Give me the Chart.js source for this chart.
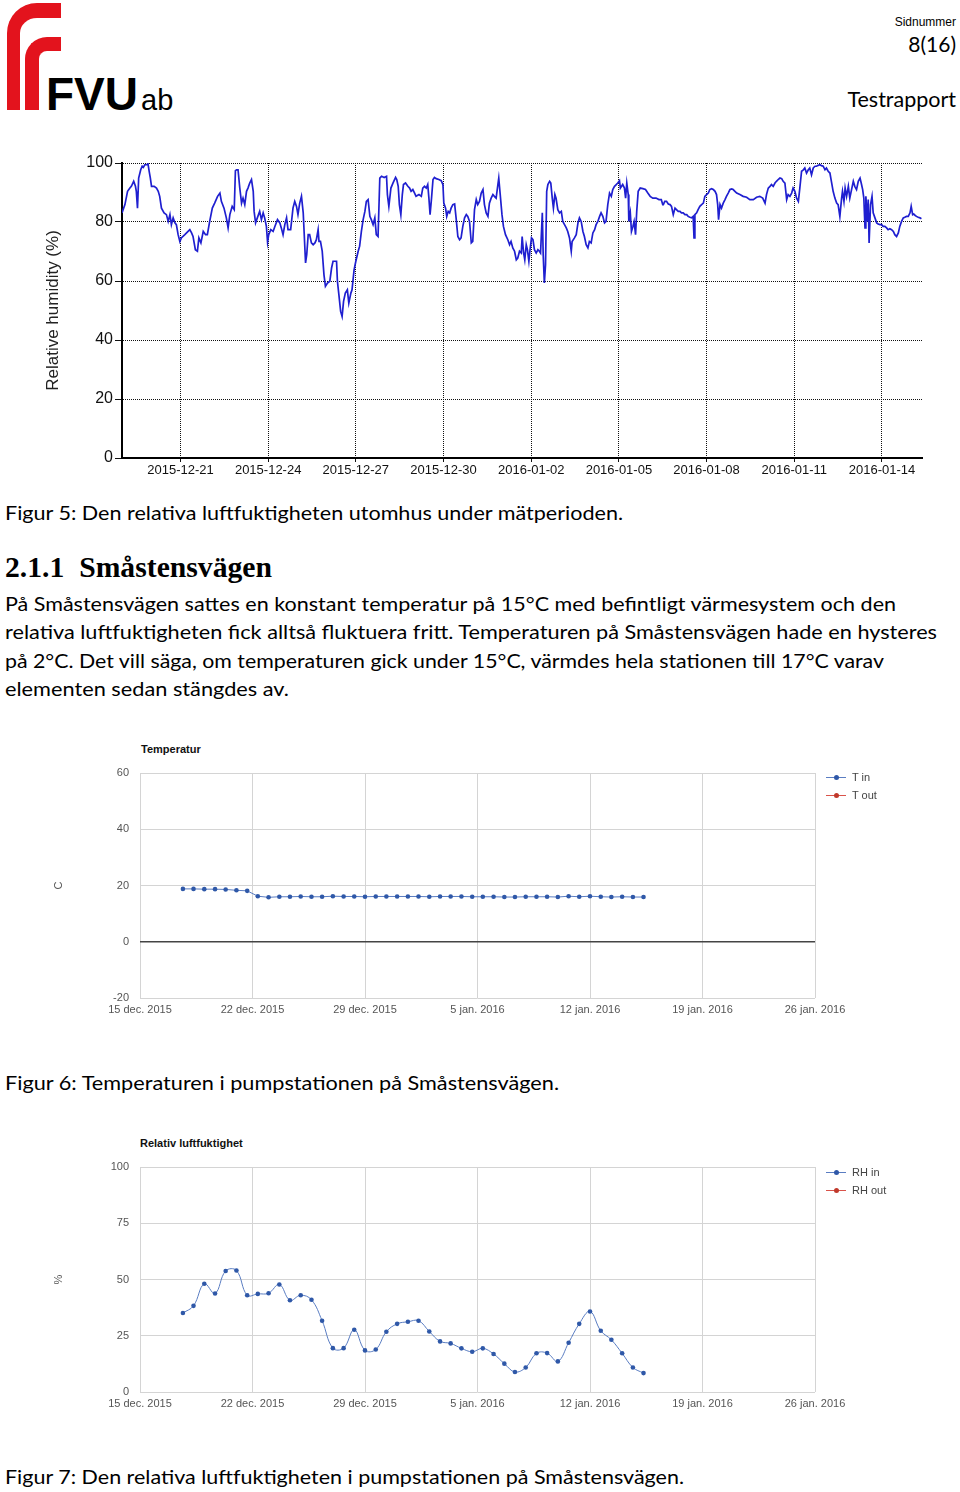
<!DOCTYPE html>
<html>
<head>
<meta charset="utf-8">
<script src="https://cdn.jsdelivr.net/npm/chart.js@4.4.1/dist/chart.umd.min.js"></script>
<style>
  body { margin: 0; background: #fff; }
  #page { position: relative; width: 960px; height: 1492px; overflow: hidden; }
  .t { position: absolute; white-space: nowrap; font-family: Lato, 'Open Sans', sans-serif; color: #000; line-height: 1; transform-origin: 0 0; }
  .red { position: absolute; border-color: #e3131d; border-style: solid; border-right: 0; border-bottom: 0; box-sizing: border-box; }
  canvas { position: absolute; }
  .ctitle { position: absolute; font: bold 11px 'Liberation Sans', Arial, sans-serif; color: #111; }
  .leg { position: absolute; left: 826px; padding-left: 26px; font: 11px 'Liberation Sans', Arial, sans-serif; color: #444; line-height: 12px; }
  .leg i { position: absolute; left: 0; top: 6px; width: 20px; height: 1px; }
  .leg b { position: absolute; left: 8px; top: -2px; width: 5px; height: 5px; border-radius: 50%; }
</style>
</head>
<body>
<div id="page">
  <!-- logo -->
  <div class="red" style="left:7px;top:3px;width:54px;height:107px;border-top-width:15px;border-left-width:13px;border-top-left-radius:30px;"></div>
  <div class="red" style="left:25px;top:37px;width:36px;height:73px;border-top-width:14px;border-left-width:14px;border-top-left-radius:22px;"></div>
  <div class="t" style="left:46px;top:71px;font:bold 46px 'Liberation Sans',Arial,sans-serif;line-height:46px;">FVU</div>
  <div class="t" style="left:141px;top:86px;font:29px 'Liberation Sans',Arial,sans-serif;line-height:29px;">ab</div>

  <div class="t" style="right:4px;top:16px;font-family:'Liberation Sans',Arial,sans-serif;font-size:12px;">Sidnummer</div>
  <div class="t" style="right:4px;top:33px;font-size:21px;">8(16)</div>
  <div class="t" style="right:4px;top:89px;font-size:21.5px;">Testrapport</div>

  <canvas id="rhOutChart" width="900" height="335" style="left:38px;top:150px;"></canvas>

  <div class="t fit" data-w="618" style="left:5px;top:502px;font-size:20px;">Figur 5: Den relativa luftfuktigheten utomhus under mätperioden.</div>
  <div class="t fit" data-w="267" style="left:5px;top:553px;font:bold 29px 'Liberation Serif',serif;line-height:1;">2.1.1&nbsp;&nbsp;Småstensvägen</div>
  <div class="t fit" data-w="891" style="left:5px;top:593px;font-size:20px;">På Småstensvägen sattes en konstant temperatur på 15°C med befintligt värmesystem och den</div>
  <div class="t fit" data-w="932" style="left:5px;top:621px;font-size:20px;">relativa luftfuktigheten fick alltså fluktuera fritt. Temperaturen på Småstensvägen hade en hysteres</div>
  <div class="t fit" data-w="879" style="left:5px;top:650px;font-size:20px;">på 2°C. Det vill säga, om temperaturen gick under 15°C, värmdes hela stationen till 17°C varav</div>
  <div class="t fit" data-w="284" style="left:5px;top:678px;font-size:20px;">elementen sedan stängdes av.</div>

  <div class="ctitle" style="left:141px;top:743px;">Temperatur</div>
  <canvas id="tempChart" width="830" height="270" style="left:40px;top:755px;"></canvas>
  <div id="tempLegend"></div>

  <div class="t fit" data-w="554" style="left:5px;top:1072px;font-size:20px;">Figur 6: Temperaturen i pumpstationen på Småstensvägen.</div>

  <div class="ctitle" style="left:140px;top:1137px;">Relativ luftfuktighet</div>
  <canvas id="rhPumpChart" width="830" height="270" style="left:40px;top:1149px;"></canvas>
  <div id="rhLegend"></div>

  <div class="t fit" data-w="679" style="left:5px;top:1466px;font-size:20px;">Figur 7: Den relativa luftfuktigheten i pumpstationen på Småstensvägen.</div>
</div>

<script>
// Figur 5: RH utomhus, x = dagar sedan 2015-12-19 00:00
const rhOutDays = [
  0.00,0.10,0.19,0.27,0.32,0.40,0.46,0.49,0.53,0.57,0.64,0.69,0.73,0.78,0.85,0.89,0.93,0.97,1.01,1.10,
  1.18,1.24,1.29,1.35,1.44,1.52,1.58,1.64,1.69,1.75,1.81,1.86,1.92,1.98,2.03,2.15,2.26,2.32,2.38,2.43,
  2.51,2.58,2.63,2.70,2.78,2.86,2.92,3.00,3.09,3.17,3.27,3.35,3.40,3.49,3.57,3.63,3.69,3.77,3.84,3.88,
  3.92,3.97,4.03,4.09,4.14,4.20,4.26,4.31,4.37,4.43,4.49,4.52,4.57,4.63,4.71,4.77,4.83,4.88,4.94,4.98,
  5.02,5.09,5.17,5.23,5.32,5.40,5.45,5.51,5.57,5.63,5.68,5.77,5.85,5.91,5.97,6.02,6.08,6.14,6.20,6.23,
  6.28,6.32,6.37,6.42,6.48,6.54,6.60,6.65,6.71,6.74,6.79,6.85,6.91,6.96,7.03,7.11,7.17,7.22,7.28,7.34,
  7.37,7.42,7.48,7.53,7.58,7.64,7.71,7.76,7.83,7.87,7.94,8.00,8.08,8.13,8.19,8.25,8.31,8.36,8.42,8.48,
  8.53,8.59,8.65,8.70,8.76,8.82,8.88,8.97,9.05,9.08,9.13,9.20,9.27,
  9.36,9.40,9.45,9.49,9.54,9.59,9.63,9.70,9.78,9.84,9.89,9.95,10.01,10.06,10.16,10.24,10.29,10.35,10.41,10.46,
  10.50,10.54,10.59,10.64,10.69,10.75,10.84,10.92,10.98,11.01,11.07,11.11,11.16,11.21,11.26,11.32,11.38,11.43,11.49,11.55,
  11.60,11.66,11.72,11.78,11.83,11.89,11.95,12.00,12.06,12.12,12.17,12.23,12.29,12.35,12.40,12.46,12.52,12.57,12.63,12.69,
  12.74,12.80,12.86,12.89,12.94,13.00,13.05,13.12,13.20,13.26,13.31,13.37,13.43,13.49,13.54,13.60,13.66,13.69,13.74,13.78,
  13.83,13.87,13.92,13.96,14.01,14.06,14.11,14.17,14.23,14.28,14.32,14.38,14.41,14.45,14.49,14.53,14.57,14.63,14.67,14.72,
  14.76,14.81,14.85,14.91,14.97,15.03,15.08,15.14,15.20,15.25,15.31,15.37,15.40,15.48,15.54,15.60,15.65,15.71,15.77,15.82,
  15.88,15.94,15.99,16.05,16.11,16.17,16.22,16.28,16.34,16.39,16.45,16.51,16.56,16.62,16.68,16.74,16.79,16.85,16.91,16.96,
  17.02,17.05,17.13,17.19,17.23,17.27,17.32,17.34,17.39,17.43,17.48,17.52,17.57,17.61,17.66,17.73,17.82,17.91,17.99,18.07,
  18.16,18.27,18.37,18.45,18.50,
  18.52,18.57,18.63,18.69,18.75,18.80,18.86,18.92,18.97,19.03,19.09,19.14,19.20,19.26,19.32,19.37,19.43,19.49,19.54,19.57,
  19.60,19.66,19.71,19.77,19.83,19.89,19.94,20.00,20.06,20.11,20.17,20.23,20.29,20.34,20.38,20.41,20.46,20.51,20.57,20.63,
  20.68,20.74,20.80,20.86,20.91,20.97,21.03,21.14,21.25,21.37,21.48,21.60,21.71,21.82,21.92,22.00,22.05,22.11,22.17,22.22,
  22.28,22.34,22.39,22.45,22.51,22.57,22.62,22.68,22.74,22.79,22.85,22.91,22.96,23.02,23.08,23.14,23.19,23.25,23.31,23.36,
  23.42,23.48,23.53,23.59,23.65,23.71,23.76,23.82,23.88,23.93,23.99,24.05,24.10,24.16,24.22,24.27,24.33,24.39,24.45,24.50,
  24.56,24.62,24.65,24.70,24.74,24.79,24.85,24.90,24.96,25.02,25.07,25.13,25.19,25.25,25.29,25.34,25.38,25.42,25.45,25.50,
  25.53,25.56,25.61,25.66,25.70,25.76,25.82,25.87,25.93,25.99,26.04,26.10,26.16,26.21,26.27,26.33,26.39,26.44,26.50,26.56,
  26.61,26.67,26.73,26.78,26.84,26.90,26.96,27.00,27.05,27.09,27.14,27.18,27.24,27.30,27.35
];
const rhOutValues = [
  83.1,85.9,90.4,91.5,92.1,93.8,92.1,90.4,84.7,94.9,97.7,98.9,98.5,99.4,99.4,99.7,97.2,94.9,92.1,92.1,
  91.5,90.4,88.7,84.7,83.1,82.5,80.2,82.5,79.1,81.4,79.7,79.1,75.7,73.4,74.6,75.7,76.8,77.4,76.3,75.1,
  70.6,70.1,74.6,72.9,76.8,75.7,75.7,80.2,84.7,86.4,88.7,89.8,87.0,84.7,81.4,78.0,82.5,85.3,84.2,97.4,
  97.7,97.7,91.5,86.4,88.1,85.9,90.4,91.5,93.2,94.4,90.4,83.6,79.7,81.4,83.6,80.8,83.1,81.4,78.5,73.2,
  75.7,77.4,76.8,78.5,80.8,79.7,78.0,75.7,79.1,81.4,77.4,77.4,84.7,87.0,85.3,82.5,86.4,88.7,83.1,76.8,
  66.1,68.9,75.7,75.7,72.9,72.3,72.9,74.0,77.4,73.4,73.4,70.1,62.1,58.2,59.3,59.9,64.4,66.7,66.7,66.7,
  59.9,55.4,49.7,48.0,53.1,55.9,57.0,52.5,55.9,57.0,63.8,66.7,70.1,71.8,76.8,80.8,83.6,87.0,87.6,81.9,
  80.8,79.1,81.4,75.7,75.1,94.9,95.5,95.1,95.5,89.3,85.3,91.5,93.2,
  95.1,94.4,92.1,85.9,82.5,89.3,92.7,93.2,92.1,91.5,90.4,91.0,89.8,88.7,89.3,88.7,91.5,92.1,91.5,92.7,
  88.1,82.5,88.1,94.4,95.1,94.7,94.4,94.0,92.7,86.4,84.7,81.9,83.6,83.1,84.7,85.9,86.1,81.4,75.1,74.0,
  74.6,78.5,81.4,82.5,81.9,80.2,72.9,73.4,84.2,87.6,85.9,87.0,89.8,91.0,85.9,83.1,81.9,86.4,88.1,89.3,
  88.7,88.1,92.7,94.9,89.3,82.5,78.5,75.7,74.0,72.3,73.4,71.2,70.1,67.2,67.8,70.1,69.5,75.1,69.5,67.2,
  72.3,70.6,66.7,70.6,74.6,74.0,70.6,69.5,70.6,70.1,69.5,83.1,68.9,59.3,65.5,90.4,92.7,93.8,93.2,88.1,
  84.7,89.3,88.1,84.2,83.1,83.6,80.2,79.1,78.0,76.8,74.6,70.1,73.4,74.6,75.7,79.7,81.4,80.2,76.8,75.1,
  72.3,71.2,73.4,72.9,76.3,77.4,79.1,80.2,81.9,83.1,81.9,79.7,80.2,85.9,89.8,88.7,91.0,92.1,92.7,93.2,
  94.0,91.5,92.7,91.5,88.1,93.2,89.3,80.2,83.1,76.8,78.5,80.2,75.7,83.6,90.4,91.5,91.3,91.0,89.8,88.7,
  88.1,88.1,87.6,87.6,85.9,
  85.9,87.0,87.0,86.1,85.9,85.3,82.5,84.7,84.2,83.6,83.6,83.1,83.1,82.5,82.5,81.9,81.6,81.4,81.9,74.6,
  82.5,83.1,84.2,85.3,85.9,86.4,88.7,89.3,89.8,91.0,91.3,91.0,90.4,89.3,85.9,80.8,85.9,84.7,86.4,87.6,
  88.7,89.8,91.0,91.2,91.0,90.4,89.8,89.3,88.7,88.4,87.6,87.6,88.4,88.7,88.1,86.4,89.3,91.5,92.1,92.7,
  92.1,93.2,93.8,94.4,94.9,94.7,93.8,93.2,87.6,89.3,88.7,89.8,91.5,90.4,88.1,87.0,91.5,97.2,97.7,98.3,
  96.6,97.7,98.3,96.0,98.3,98.9,98.9,99.2,99.4,99.1,98.9,97.7,98.3,97.2,96.6,93.8,90.4,88.1,86.4,85.9,
  81.9,88.1,90.4,87.0,91.5,88.7,92.1,88.1,91.0,93.8,92.1,91.0,93.8,94.9,93.2,91.0,88.1,78.0,88.7,80.2,
  87.6,72.9,85.9,88.7,83.1,81.4,79.7,79.3,79.1,79.1,78.5,78.5,78.0,77.4,77.7,77.4,76.8,75.7,75.1,76.3,
  78.5,80.2,81.4,81.6,81.9,81.9,83.1,85.3,82.5,82.7,82.2,81.9,81.6,81.4,81.1
];
const rhOutTickDays = [2, 5, 8, 11, 14, 17, 20, 23, 26];
const rhOutTickLabels = ['2015-12-21', '2015-12-24', '2015-12-27', '2015-12-30', '2016-01-02',
  '2016-01-05', '2016-01-08', '2016-01-11', '2016-01-14'];

// Figur 6 och 7: pumpstationen, x = dagar sedan 15 dec 2015
const pumpDays = [2.67, 3.33, 4, 4.67, 5.33, 6, 6.67, 7.33, 8, 8.67, 9.33, 10, 10.67, 11.33, 12, 12.67,
  13.33, 14, 14.67, 15.33, 16, 16.67, 17.33, 18, 18.67, 19.33, 20, 20.67, 21.33, 22, 22.67, 23.33, 24,
  24.67, 25.33, 26, 26.67, 27.33, 28, 28.67, 29.33, 30, 30.67, 31.33];
const tempIn = [18.8, 18.8, 18.7, 18.7, 18.6, 18.3, 18.1, 16.2, 15.8, 16.0, 16.0, 16.1, 16.0, 16.0, 16.2,
  16.1, 16.1, 16.0, 16.1, 16.1, 16.1, 16.1, 16.1, 16.0, 16.1, 16.1, 16.1, 16.0, 16.0, 16.0, 15.9, 15.9,
  16.0, 16.0, 16.0, 15.9, 16.2, 16.0, 16.2, 16.0, 15.9, 16.0, 15.9, 15.9];
const tempOut = [];
const rhIn = [35.1, 38.3, 48.1, 43.8, 53.8, 54.0, 43.0, 43.6, 43.9, 47.8, 40.8, 43.0, 41.0, 31.7, 19.5,
  19.5, 27.7, 18.5, 18.9, 26.8, 30.3, 31.2, 31.7, 26.9, 22.5, 21.6, 19.4, 17.9, 19.4, 16.9, 12.6, 8.9,
  10.9, 17.2, 17.3, 13.6, 21.9, 30.3, 35.8, 27.2, 23.2, 17.2, 10.9, 8.4];
const rhOut = [];
const pumpTickDays = [0, 7, 14, 21, 28, 35, 42];
const pumpTickLabels = ['15 dec. 2015', '22 dec. 2015', '29 dec. 2015', '5 jan. 2016', '12 jan. 2016',
  '19 jan. 2016', '26 jan. 2016'];

const ARIAL = "'Liberation Sans', Arial, sans-serif";
const BLUE_LINE = '#5a7dc2';
const BLUE_DOT = '#2f58a8';
const RED_LINE = '#d9534a';
const RED_DOT = '#c0392b';

function toPoints(xs, ys) {
  return ys.map((y, i) => ({ x: xs[i], y }));
}

// stretch text lines to the widths of the original page
function fitLines() {
  document.querySelectorAll('.fit').forEach(el => {
    el.style.transform = 'none';
    const w = el.getBoundingClientRect().width;
    el.style.transform = `scaleX(${el.dataset.w / w})`;
  });
}
fitLines();
if (document.fonts) document.fonts.ready.then(fitLines);

// Figur 5
new Chart(document.getElementById('rhOutChart'), {
  type: 'line',
  data: {
    datasets: [{
      label: 'RH',
      data: toPoints(rhOutDays, rhOutValues),
      borderColor: '#1f1fd0',
      borderWidth: 1.7,
      pointRadius: 0,
      tension: 0
    }]
  },
  options: {
    responsive: false,
    animation: false,
    layout: { padding: { top: 13, right: 16, left: 0, bottom: 0 } },
    plugins: { legend: { display: false }, tooltip: { enabled: false } },
    scales: {
      x: {
        type: 'linear',
        min: 0,
        max: 27.37,
        afterBuildTicks: s => { s.ticks = rhOutTickDays.map(v => ({ value: v })); },
        afterFit: s => { s.height = 27; },
        ticks: {
          autoSkip: false,
          maxRotation: 0,
          padding: 1,
          color: '#111',
          font: { family: ARIAL, size: 13 },
          callback: (v, i) => rhOutTickLabels[i]
        },
        grid: { color: '#111', lineWidth: 1, tickLength: 4 },
        border: { display: true, color: '#000', width: 2, dash: [1, 1] }
      },
      y: {
        min: 0,
        max: 100,
        afterFit: s => { s.width = 84; },
        ticks: { stepSize: 20, padding: 2, color: '#111', font: { family: ARIAL, size: 16 } },
        grid: { color: '#111', lineWidth: 1, tickLength: 7 },
        border: { display: true, color: '#000', width: 2, dash: [1, 1] },
        title: {
          display: true,
          text: 'Relative humidity (%)',
          color: '#222',
          font: { family: ARIAL, size: 17 },
          padding: { top: 5, bottom: 0 }
        }
      }
    }
  }
});

// gemensamma inställningar för pumpstationens diagram
function pumpOptions(yMin, yMax, step, yTitle) {
  return {
    responsive: false,
    animation: false,
    layout: { padding: { top: 18, right: 55, left: 0, bottom: 0 } },
    plugins: { legend: { display: false }, tooltip: { enabled: false } },
    scales: {
      x: {
        type: 'linear',
        min: 0,
        max: 42,
        afterBuildTicks: s => { s.ticks = pumpTickDays.map(v => ({ value: v })); },
        afterFit: s => { s.height = 27; },
        ticks: {
          autoSkip: false,
          maxRotation: 0,
          padding: 5,
          color: '#555',
          font: { family: ARIAL, size: 11 },
          callback: (v, i) => pumpTickLabels[i]
        },
        grid: { color: '#d4d4d4', lineWidth: 1, drawTicks: false },
        border: { display: false }
      },
      y: {
        min: yMin,
        max: yMax,
        afterFit: s => { s.width = 100; },
        ticks: { stepSize: step, padding: 11, color: '#555', font: { family: ARIAL, size: 11 } },
        grid: {
          color: ctx => (ctx.tick && ctx.tick.value === 0 && yMin < 0 ? '#444' : '#d4d4d4'),
          lineWidth: ctx => (ctx.tick && ctx.tick.value === 0 && yMin < 0 ? 1.5 : 1),
          drawTicks: false
        },
        border: { display: false },
        title: {
          display: true,
          text: yTitle,
          color: '#555',
          font: { family: ARIAL, size: 11 },
          padding: { top: 12, bottom: 0 }
        }
      }
    }
  };
}

function pumpDataset(label, values, line, dot, tension) {
  return {
    label,
    data: toPoints(pumpDays, values),
    borderColor: line,
    backgroundColor: dot,
    borderWidth: 1,
    pointRadius: 2.3,
    pointBorderWidth: 0,
    pointBackgroundColor: dot,
    tension
  };
}

function buildLegend(chart, el, top) {
  chart.data.datasets.forEach((ds, i) => {
    const row = document.createElement('div');
    row.className = 'leg';
    row.style.top = (top + i * 18) + 'px';
    row.innerHTML = `<i style="background:${ds.borderColor}"><b style="background:${ds.pointBackgroundColor}"></b></i>${ds.label}`;
    el.appendChild(row);
  });
}

// Figur 6
const tempChart = new Chart(document.getElementById('tempChart'), {
  type: 'line',
  data: {
    datasets: [
      pumpDataset('T in', tempIn, BLUE_LINE, BLUE_DOT, 0),
      pumpDataset('T out', tempOut, RED_LINE, RED_DOT, 0)
    ]
  },
  options: pumpOptions(-20, 60, 20, 'C')
});
buildLegend(tempChart, document.getElementById('tempLegend'), 771);

// Figur 7
const rhChart = new Chart(document.getElementById('rhPumpChart'), {
  type: 'line',
  data: {
    datasets: [
      pumpDataset('RH in', rhIn, BLUE_LINE, BLUE_DOT, 0.4),
      pumpDataset('RH out', rhOut, RED_LINE, RED_DOT, 0.4)
    ]
  },
  options: pumpOptions(0, 100, 25, '%')
});
buildLegend(rhChart, document.getElementById('rhLegend'), 1166);
</script>
</body>
</html>
